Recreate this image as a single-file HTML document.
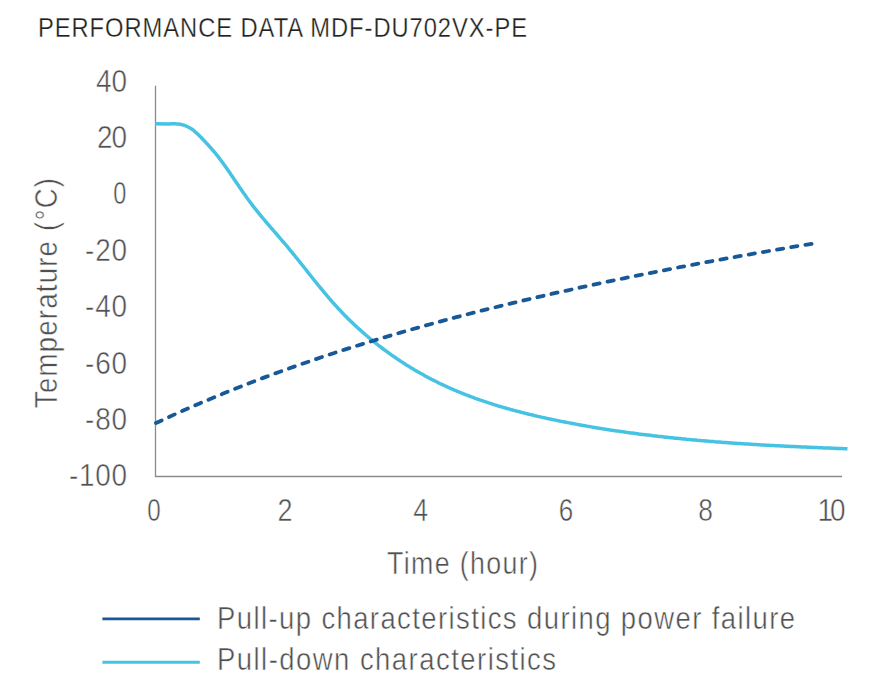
<!DOCTYPE html>
<html><head><meta charset="utf-8"><style>
html,body{margin:0;padding:0;background:#fff;width:884px;height:698px;overflow:hidden}
svg{display:block}
text{font-family:"Liberation Sans",sans-serif;white-space:pre}
.th text{stroke:#fff;stroke-width:0.5px;paint-order:fill}
.th .ti text{stroke-width:0.3px}
</style></head><body>
<svg width="884" height="698" viewBox="0 0 884 698">
<g class="th">
<g class="ti" transform="translate(38.00,36.80) scale(0.8600,1)"><text x="0" y="0" font-size="27.6" fill="#231f20" textLength="568.60" lengthAdjust="spacing">PERFORMANCE DATA MDF-DU702VX-PE</text></g>
<g transform="translate(96.00,91.50) scale(0.9000,1)"><text x="0" y="0" font-size="31" fill="#505050" textLength="34.44" lengthAdjust="spacing">40</text></g>
<g transform="translate(97.00,147.60) scale(0.9000,1)"><text x="0" y="0" font-size="31" fill="#505050" textLength="33.33" lengthAdjust="spacing">20</text></g>
<g transform="translate(119.80,204.40) scale(0.7600,1)"><text x="0" y="0" font-size="31" fill="#505050" text-anchor="middle">0</text></g>
<g transform="translate(85.00,260.80) scale(0.9000,1)"><text x="0" y="0" font-size="31" fill="#505050" textLength="46.67" lengthAdjust="spacing">-20</text></g>
<g transform="translate(85.00,316.80) scale(0.9000,1)"><text x="0" y="0" font-size="31" fill="#505050" textLength="46.67" lengthAdjust="spacing">-40</text></g>
<g transform="translate(85.00,373.60) scale(0.9000,1)"><text x="0" y="0" font-size="31" fill="#505050" textLength="46.67" lengthAdjust="spacing">-60</text></g>
<g transform="translate(85.00,429.50) scale(0.9000,1)"><text x="0" y="0" font-size="31" fill="#505050" textLength="46.67" lengthAdjust="spacing">-80</text></g>
<g transform="translate(69.00,485.70) scale(0.9000,1)"><text x="0" y="0" font-size="31" fill="#505050" textLength="64.44" lengthAdjust="spacing">-100</text></g>
<g transform="translate(154.00,520.50) scale(0.7800,1)"><text x="0" y="0" font-size="31" fill="#505050" text-anchor="middle">0</text></g>
<g transform="translate(284.95,520.50) scale(0.8700,1)"><text x="0" y="0" font-size="31" fill="#505050" text-anchor="middle">2</text></g>
<g transform="translate(420.55,520.50) scale(0.8600,1)"><text x="0" y="0" font-size="31" fill="#505050" text-anchor="middle">4</text></g>
<g transform="translate(565.90,520.50) scale(0.8400,1)"><text x="0" y="0" font-size="31" fill="#505050" text-anchor="middle">6</text></g>
<g transform="translate(705.70,520.50) scale(0.8500,1)"><text x="0" y="0" font-size="31" fill="#505050" text-anchor="middle">8</text></g>
<g transform="translate(817.50,520.50) scale(0.9000,1)"><text x="0" y="0" font-size="31" fill="#505050" textLength="31.11" lengthAdjust="spacing">10</text></g>
<g transform="translate(387.00,574.20) scale(0.8500,1)"><text x="0" y="0" font-size="31.5" fill="#505050" textLength="177.65" lengthAdjust="spacing">Time (hour)</text></g>
<g transform="translate(57.00,408.00) rotate(-90) scale(0.8600,1)"><text x="0" y="0" font-size="32" fill="#505050" textLength="267.44" lengthAdjust="spacing">Temperature (°C)</text></g>
<g transform="translate(217.00,629.30) scale(0.8800,1)"><text x="0" y="0" font-size="31.2" fill="#505050" textLength="656.82" lengthAdjust="spacing">Pull-up characteristics during power failure</text></g>
<g transform="translate(217.00,669.70) scale(0.8800,1)"><text x="0" y="0" font-size="31.2" fill="#505050" textLength="385.23" lengthAdjust="spacing">Pull-down characteristics</text></g>
</g>
<path d="M155.5,85.7 V476.5 H842" fill="none" stroke="#8a8a8a" stroke-width="1.3"/>
<path d="M155,123.8 L170.0,123.9 L171.6,123.8 L173.2,123.8 L174.8,123.8 L176.4,123.9 L178.0,124.0 L179.6,124.2 L181.2,124.5 L182.7,124.9 L184.2,125.3 L185.7,125.8 L187.2,126.5 L188.6,127.2 L190.0,128.0 L191.3,128.8 L192.6,129.7 L193.9,130.7 L195.1,131.8 L196.3,132.8 L197.5,133.9 L198.7,135.0 L199.8,136.2 L201.0,137.3 L202.1,138.5 L203.2,139.7 L204.3,140.8 L205.4,142.0 L206.5,143.2 L207.6,144.3 L208.6,145.5 L209.7,146.7 L210.8,147.9 L211.8,149.1 L212.8,150.3 L213.9,151.5 L214.9,152.7 L215.9,153.9 L216.9,155.2 L217.9,156.4 L218.8,157.6 L219.8,158.9 L220.8,160.2 L221.7,161.4 L222.7,162.7 L223.6,164.0 L224.5,165.3 L225.5,166.6 L226.4,167.9 L227.3,169.2 L228.2,170.5 L229.1,171.8 L230.0,173.1 L230.9,174.5 L231.8,175.8 L232.7,177.1 L233.6,178.4 L234.5,179.7 L235.4,181.1 L236.3,182.4 L237.2,183.7 L238.1,185.0 L239.0,186.4 L239.9,187.7 L240.8,189.0 L241.7,190.3 L242.6,191.7 L243.5,193.0 L244.5,194.3 L245.4,195.6 L246.3,196.9 L247.2,198.2 L248.2,199.5 L249.1,200.8 L250.1,202.1 L251.0,203.3 L252.0,204.6 L252.9,205.9 L253.9,207.1 L254.9,208.4 L255.9,209.7 L256.9,210.9 L257.9,212.1 L258.9,213.4 L259.9,214.6 L260.9,215.9 L261.9,217.1 L263.0,218.3 L264.0,219.5 L265.0,220.7 L266.0,222.0 L267.1,223.2 L268.1,224.4 L269.2,225.6 L270.2,226.8 L271.2,228.0 L272.3,229.2 L273.3,230.4 L274.4,231.6 L275.4,232.8 L276.5,234.0 L277.5,235.3 L278.6,236.5 L279.6,237.7 L280.6,238.9 L281.7,240.1 L282.7,241.3 L283.8,242.5 L284.8,243.7 L285.8,244.9 L286.9,246.2 L287.9,247.4 L288.9,248.6 L289.9,249.9 L290.9,251.1 L292.0,252.3 L293.0,253.6 L294.0,254.8 L295.0,256.0 L296.0,257.3 L297.0,258.5 L298.0,259.8 L299.0,261.0 L300.0,262.3 L301.0,263.5 L302.0,264.8 L303.0,266.0 L304.0,267.3 L305.0,268.5 L306.0,269.8 L307.0,271.0 L307.9,272.3 L308.9,273.5 L309.9,274.8 L310.9,276.0 L311.9,277.3 L312.9,278.5 L313.9,279.8 L314.9,281.0 L315.9,282.3 L316.9,283.5 L317.9,284.8 L318.9,286.0 L319.9,287.2 L321.0,288.5 L322.0,289.7 L323.0,290.9 L324.0,292.2 L325.0,293.4 L326.1,294.6 L327.1,295.8 L328.1,297.0 L329.2,298.3 L330.2,299.5 L331.3,300.7 L332.3,301.9 L333.4,303.1 L334.4,304.3 L335.5,305.4 L336.6,306.6 L337.6,307.8 L338.7,309.0 L339.8,310.1 L340.9,311.3 L342.0,312.5 L343.1,313.6 L344.2,314.8 L345.3,315.9 L346.5,317.0 L347.6,318.2 L348.7,319.3 L349.9,320.4 L351.0,321.5 L352.2,322.6 L353.3,323.7 L354.5,324.8 L355.6,325.9 L356.8,327.0 L358.0,328.1 L359.2,329.2 L360.4,330.2 L361.6,331.3 L362.8,332.4 L364.0,333.4 L365.2,334.5 L366.4,335.5 L367.6,336.5 L368.8,337.6 L370.1,338.6 L371.3,339.6 L372.5,340.6 L373.8,341.6 L375.0,342.6 L376.3,343.6 L377.5,344.6 L378.8,345.6 L380.1,346.6 L381.3,347.5 L382.6,348.5 L383.9,349.5 L385.2,350.4 L386.5,351.4 L387.8,352.3 L389.1,353.2 L390.4,354.2 L391.7,355.1 L393.0,356.0 L394.3,356.9 L395.6,357.8 L396.9,358.7 L398.3,359.6 L399.6,360.5 L400.9,361.4 L402.3,362.3 L403.6,363.1 L405.0,364.0 L406.3,364.9 L407.7,365.7 L409.1,366.5 L410.4,367.4 L411.8,368.2 L413.2,369.0 L414.5,369.9 L415.9,370.7 L417.3,371.5 L418.7,372.3 L420.1,373.1 L421.5,373.8 L422.9,374.6 L424.3,375.4 L425.7,376.2 L427.1,376.9 L428.5,377.7 L429.9,378.4 L431.3,379.2 L432.7,379.9 L434.2,380.6 L435.6,381.3 L437.0,382.0 L438.4,382.8 L439.9,383.5 L441.3,384.1 L442.8,384.8 L444.2,385.5 L445.7,386.2 L447.1,386.8 L448.6,387.5 L450.0,388.2 L451.5,388.8 L452.9,389.4 L454.4,390.1 L455.9,390.7 L457.3,391.3 L458.8,391.9 L460.3,392.5 L461.8,393.1 L463.2,393.7 L464.7,394.3 L466.2,394.9 L467.7,395.5 L469.2,396.0 L470.7,396.6 L472.2,397.2 L473.7,397.7 L475.2,398.3 L476.7,398.8 L478.2,399.3 L479.7,399.9 L481.2,400.4 L482.7,400.9 L484.2,401.4 L485.7,401.9 L487.2,402.4 L488.7,402.9 L490.3,403.4 L491.8,403.9 L493.3,404.4 L494.8,404.9 L496.3,405.3 L497.9,405.8 L499.4,406.3 L500.9,406.7 L502.5,407.2 L504.0,407.6 L505.5,408.0 L507.1,408.5 L508.6,408.9 L510.1,409.3 L511.7,409.8 L513.2,410.2 L514.8,410.6 L516.3,411.0 L517.9,411.4 L519.4,411.8 L521.0,412.2 L522.5,412.6 L524.1,413.0 L525.6,413.4 L527.2,413.8 L528.7,414.2 L530.3,414.5 L531.8,414.9 L533.4,415.3 L534.9,415.7 L536.5,416.0 L538.1,416.4 L539.6,416.7 L541.2,417.1 L542.7,417.4 L544.3,417.8 L545.9,418.1 L547.4,418.5 L549.0,418.8 L550.6,419.1 L552.1,419.5 L553.7,419.8 L555.3,420.1 L556.8,420.4 L558.4,420.8 L560.0,421.1 L561.5,421.4 L563.1,421.7 L564.7,422.0 L566.2,422.3 L567.8,422.6 L569.4,422.9 L570.9,423.2 L572.5,423.5 L574.1,423.8 L575.7,424.1 L577.2,424.4 L578.8,424.7 L580.4,425.0 L581.9,425.3 L583.5,425.5 L585.1,425.8 L586.7,426.1 L588.2,426.4 L589.8,426.6 L591.4,426.9 L593.0,427.2 L594.5,427.4 L596.1,427.7 L597.7,428.0 L599.3,428.2 L600.8,428.5 L602.4,428.7 L604.0,429.0 L605.6,429.2 L607.2,429.5 L608.7,429.7 L610.3,430.0 L611.9,430.2 L613.5,430.4 L615.1,430.7 L616.6,430.9 L618.2,431.1 L619.8,431.4 L621.4,431.6 L623.0,431.8 L624.5,432.0 L626.1,432.3 L627.7,432.5 L629.3,432.7 L630.9,432.9 L632.4,433.1 L634.0,433.3 L635.6,433.5 L637.2,433.7 L638.8,434.0 L640.4,434.2 L641.9,434.4 L643.5,434.6 L645.1,434.8 L646.7,435.0 L648.3,435.1 L649.9,435.3 L651.5,435.5 L653.0,435.7 L654.6,435.9 L656.2,436.1 L657.8,436.3 L659.4,436.4 L661.0,436.6 L662.6,436.8 L664.2,437.0 L665.7,437.2 L667.3,437.3 L668.9,437.5 L670.5,437.7 L672.1,437.8 L673.7,438.0 L675.3,438.2 L676.9,438.3 L678.5,438.5 L680.0,438.6 L681.6,438.8 L683.2,439.0 L684.8,439.1 L686.4,439.3 L688.0,439.4 L689.6,439.6 L691.2,439.7 L692.8,439.9 L694.4,440.0 L695.9,440.1 L697.5,440.3 L699.1,440.4 L700.7,440.6 L702.3,440.7 L703.9,440.8 L705.5,441.0 L707.1,441.1 L708.7,441.2 L710.3,441.4 L711.9,441.5 L713.5,441.6 L715.1,441.8 L716.6,441.9 L718.2,442.0 L719.8,442.1 L721.4,442.2 L723.0,442.4 L724.6,442.5 L726.2,442.6 L727.8,442.7 L729.4,442.8 L731.0,442.9 L732.6,443.1 L734.2,443.2 L735.8,443.3 L737.4,443.4 L739.0,443.5 L740.6,443.6 L742.2,443.7 L743.8,443.8 L745.3,443.9 L746.9,444.0 L748.5,444.1 L750.1,444.2 L751.7,444.3 L753.3,444.4 L754.9,444.5 L756.5,444.6 L758.1,444.7 L759.7,444.8 L761.3,444.9 L762.9,445.0 L764.5,445.1 L766.1,445.2 L767.7,445.2 L769.3,445.3 L770.9,445.4 L772.5,445.5 L774.1,445.6 L775.7,445.7 L777.3,445.8 L778.9,445.8 L780.5,445.9 L782.1,446.0 L783.6,446.1 L785.2,446.2 L786.8,446.2 L788.4,446.3 L790.0,446.4 L791.6,446.5 L793.2,446.6 L794.8,446.6 L796.4,446.7 L798.0,446.8 L799.6,446.8 L801.2,446.9 L802.8,447.0 L804.4,447.1 L806.0,447.1 L807.6,447.2 L809.2,447.3 L810.8,447.3 L812.4,447.4 L814.0,447.5 L815.6,447.5 L817.2,447.6 L818.8,447.7 L820.4,447.7 L822.0,447.8 L823.6,447.9 L825.2,447.9 L826.8,448.0 L828.4,448.1 L829.9,448.1 L831.5,448.2 L833.1,448.2 L834.7,448.3 L836.3,448.4 L837.9,448.4 L839.5,448.5 L841.1,448.5 L842.7,448.6 L844.3,448.7 L845.9,448.7 L847.5,448.8" fill="none" stroke="#46c2e2" stroke-width="3.5" stroke-linejoin="round"/>
<path d="M155.0,423.5 L166.2,418.3 L177.3,413.2 L188.5,408.3 L199.6,403.4 L210.8,398.7 L222.0,394.1 L233.1,389.6 L244.3,385.1 L255.4,380.8 L266.6,376.6 L277.8,372.5 L288.9,368.5 L300.1,364.5 L311.3,360.7 L322.4,356.9 L333.6,353.2 L344.7,349.6 L355.9,346.1 L367.1,342.6 L378.2,339.2 L389.4,335.9 L400.5,332.6 L411.7,329.4 L422.9,326.3 L434.0,323.2 L445.2,320.2 L456.3,317.2 L467.5,314.3 L478.7,311.4 L489.8,308.6 L501.0,305.9 L512.2,303.2 L523.3,300.5 L534.5,297.9 L545.6,295.3 L556.8,292.7 L568.0,290.3 L579.1,287.8 L590.3,285.4 L601.4,283.0 L612.6,280.6 L623.8,278.3 L634.9,276.0 L646.1,273.8 L657.2,271.6 L668.4,269.4 L679.6,267.2 L690.7,265.1 L701.9,263.0 L713.1,260.9 L724.2,258.9 L735.4,256.9 L746.5,254.9 L757.7,252.9 L768.9,251.0 L780.0,249.1 L791.2,247.2 L802.3,245.3 L813.5,243.5" fill="none" stroke="#185896" stroke-width="3.8" stroke-dasharray="6.3 8.073" stroke-dashoffset="-1.05" stroke-linecap="round"/>
<line x1="102.4" y1="618.8" x2="199.8" y2="618.8" stroke="#185896" stroke-width="2.8"/>
<line x1="102.4" y1="662.3" x2="199.8" y2="662.3" stroke="#46c2e2" stroke-width="3"/>
</svg>
</body></html>
